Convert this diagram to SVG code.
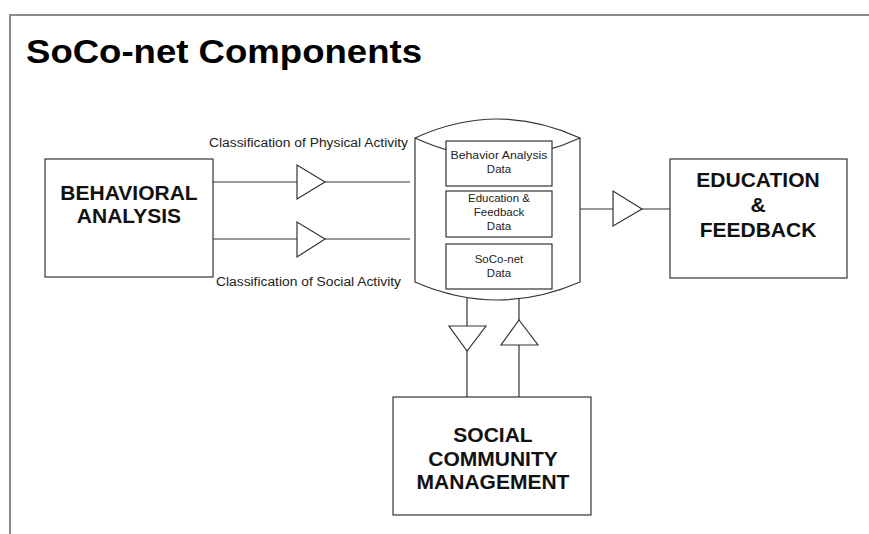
<svg xmlns="http://www.w3.org/2000/svg" width="869" height="534" viewBox="0 0 869 534">
<style>
.box{fill:#fff;stroke:#333;stroke-width:1.2}
.ln{fill:none;stroke:#333;stroke-width:1.2}
.tri{fill:#fff;stroke:#333;stroke-width:1.2}
.big{font-family:"Liberation Sans",Arial,sans-serif;font-weight:bold;font-size:21px;fill:#111;text-anchor:middle}
.sm{font-family:"Liberation Sans",Arial,sans-serif;font-size:12px;fill:#222}
.db{font-family:"Liberation Sans",Arial,sans-serif;font-size:11.5px;fill:#222;text-anchor:middle}
</style>
<rect width="869" height="534" fill="#fff"/>
<g id="frame">
<line x1="9" y1="15" x2="869" y2="15" stroke="#8a8a8a" stroke-width="2"/>
<line x1="10" y1="14" x2="10" y2="534" stroke="#8a8a8a" stroke-width="2"/>
<text x="26" y="63" font-family="'Liberation Sans',Arial,sans-serif" font-weight="bold" font-size="34" fill="#000" textLength="396" lengthAdjust="spacingAndGlyphs">SoCo-net Components</text>
</g>
<g id="connectors">
<line class="ln" x1="213" y1="182" x2="410" y2="182"/>
<polygon class="tri" points="297,165 297,199 325,182"/>
<line class="ln" x1="213" y1="239" x2="410" y2="239"/>
<polygon class="tri" points="297,222 297,257 325,239"/>
<line class="ln" x1="580" y1="209" x2="673" y2="209"/>
<polygon class="tri" points="613,191 613,226 642,209"/>
<line class="ln" x1="467" y1="292" x2="467" y2="397"/>
<polygon class="tri" points="449,326 486,326 467,351"/>
<line class="ln" x1="519" y1="297" x2="519" y2="397"/>
<polygon class="tri" points="519,320 538,345 501,345"/>
<text class="sm" x="209" y="147" textLength="199" lengthAdjust="spacingAndGlyphs">Classification of Physical Activity</text>
<text class="sm" x="216" y="286" textLength="185" lengthAdjust="spacingAndGlyphs">Classification of Social Activity</text>
</g>
<g id="behavioral">
<rect class="box" x="45" y="159" width="168" height="118"/>
<text class="big" x="129" y="200">BEHAVIORAL</text>
<text class="big" x="129" y="223">ANALYSIS</text>
</g>
<g id="database">
<path class="box" d="M415,138 Q497.5,100 580,138 L580,282 Q497.5,318 415,282 Z"/>
<path class="ln" d="M415,138 Q497.5,176 580,138"/>
<g id="db-behavior">
<rect class="box" x="446" y="141" width="106" height="45"/>
<text class="db" x="499" y="159" textLength="97" lengthAdjust="spacingAndGlyphs">Behavior Analysis</text>
<text class="db" x="499" y="173">Data</text>
</g>
<g id="db-education">
<rect class="box" x="446" y="191" width="106" height="46"/>
<text class="db" x="499" y="202">Education &amp;</text>
<text class="db" x="499" y="216">Feedback</text>
<text class="db" x="499" y="230">Data</text>
</g>
<g id="db-soconet">
<rect class="box" x="446" y="244" width="106" height="45"/>
<text class="db" x="499" y="263">SoCo-net</text>
<text class="db" x="499" y="277">Data</text>
</g>
</g>
<g id="education">
<rect class="box" x="670" y="159" width="177" height="119"/>
<text class="big" x="758" y="187">EDUCATION</text>
<text class="big" x="758" y="212">&amp;</text>
<text class="big" x="758" y="237">FEEDBACK</text>
</g>
<g id="social">
<rect class="box" x="393" y="397" width="198" height="118"/>
<text class="big" x="493" y="442">SOCIAL</text>
<text class="big" x="493" y="466">COMMUNITY</text>
<text class="big" x="493" y="489">MANAGEMENT</text>
</g>
</svg>
